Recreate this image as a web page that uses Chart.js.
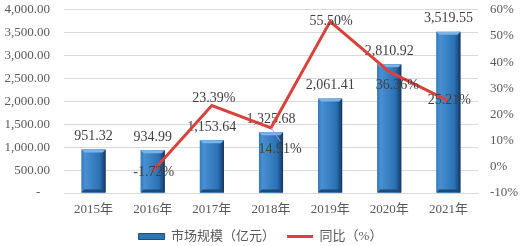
<!DOCTYPE html>
<html>
<head>
<meta charset="utf-8">
<script src="https://cdn.jsdelivr.net/npm/chart.js@4/dist/chart.umd.min.js"></script>
<style>
  html, body { margin: 0; padding: 0; background: #fff; }
  #box { width: 521px; height: 246px; }
</style>
</head>
<body>
<div id="box"><canvas id="chart"></canvas></div>
<script>
// 数据
const years = ['2015年', '2016年', '2017年', '2018年', '2019年', '2020年', '2021年'];
const marketSize = [951.32, 934.99, 1153.64, 1325.68, 2061.41, 2810.92, 3519.55];
const yoyGrowth = [null, -1.72, 23.39, 14.91, 55.50, 36.36, 25.21];
const leftTicks = [0, 500, 1000, 1500, 2000, 2500, 3000, 3500, 4000];
const rightTicks = [-10, 0, 10, 20, 30, 40, 50, 60];

// 折线标签的偏移 (px)
const lineLabelDx = [0, 1, 2, 9, 1, 8, 1];
const lineLabelDy = [0, 1, -7, 22, 0, 14, -1];

const serif = '"Liberation Serif", "Times New Roman", "Noto Sans CJK SC", serif';

function fmt(v) {
  return v.toLocaleString('en-US', { minimumFractionDigits: 2, maximumFractionDigits: 2 });
}

// 柱子立体效果 + 柱子标签
const bevelBars = {
  id: 'bevelBars',
  afterDatasetDraw(chart, args) {
    if (args.index !== 0) return;
    const ctx = chart.ctx;
    args.meta.data.forEach((bar, i) => {
      const w = bar.width, x0 = bar.x - w / 2, top = bar.y, h = bar.base - bar.y;
      const g = ctx.createLinearGradient(x0, 0, x0 + w, 0);
      g.addColorStop(0, '#3479bb');
      g.addColorStop(0.15, '#4890d2');
      g.addColorStop(0.75, '#2b72b4');
      g.addColorStop(0.9, '#1d4f85');
      g.addColorStop(1, '#12355c');
      ctx.save();
      ctx.fillStyle = g;
      ctx.fillRect(x0, top, w, h);
      // 顶部高光
      ctx.fillStyle = '#7db2e4';
      ctx.beginPath();
      ctx.moveTo(x0, top);
      ctx.lineTo(x0 + w, top);
      ctx.lineTo(x0 + w - 3, top + 3);
      ctx.lineTo(x0 + 3, top + 3);
      ctx.closePath();
      ctx.fill();
      // 底部阴影
      ctx.fillStyle = '#1c4a7a';
      ctx.beginPath();
      ctx.moveTo(x0, top + h);
      ctx.lineTo(x0 + w, top + h);
      ctx.lineTo(x0 + w - 3, top + h - 3);
      ctx.lineTo(x0 + 3, top + h - 3);
      ctx.closePath();
      ctx.fill();
      // 数值
      ctx.font = '14px ' + serif;
      ctx.fillStyle = '#404040';
      ctx.textAlign = 'center';
      ctx.textBaseline = 'bottom';
      ctx.fillText(fmt(marketSize[i]), bar.x, bar.y - 6);
      ctx.restore();
    });
  }
};

// 折线标签
const lineLabels = {
  id: 'lineLabels',
  afterDatasetsDraw(chart) {
    const ctx = chart.ctx;
    ctx.save();
    ctx.font = '14px ' + serif;
    ctx.textAlign = 'center';
    ctx.textBaseline = 'middle';
    chart.getDatasetMeta(1).data.forEach((pt, i) => {
      if (yoyGrowth[i] === null) return;
      const tx = pt.x + lineLabelDx[i], ty = pt.y + lineLabelDy[i];
      if (lineLabelDy[i] > 18) {
        // 引导线
        ctx.strokeStyle = '#a6a6a6';
        ctx.lineWidth = 1;
        ctx.beginPath();
        ctx.moveTo(pt.x, pt.y);
        ctx.lineTo(tx, ty - 9);
        ctx.stroke();
      }
      ctx.fillStyle = '#404040';
      ctx.fillText(yoyGrowth[i].toFixed(2) + '%', tx, ty);
    });
    ctx.restore();
  }
};

const chart = new Chart(document.getElementById('chart'), {
  data: {
    labels: years,
    datasets: [
      {
        type: 'bar',
        label: '市场规模（亿元）',
        data: marketSize,
        yAxisID: 'y',
        order: 1,
        backgroundColor: '#2e75b6',
        borderColor: '#1f4e79',
        borderWidth: 1,
        barPercentage: 0.8,
        categoryPercentage: 0.51
      },
      {
        type: 'line',
        label: '同比（%）',
        data: yoyGrowth,
        yAxisID: 'y1',
        order: 0,
        borderColor: '#d9433e',
        backgroundColor: '#d9433e',
        borderWidth: 3,
        pointRadius: 0,
        tension: 0,
        spanGaps: false
      }
    ]
  },
  options: {
    responsive: true,
    maintainAspectRatio: false,
    animation: false,
    layout: { padding: 0 },
    plugins: {
      tooltip: { enabled: false },
      legend: {
        position: 'bottom',
        labels: {
          font: { family: serif, size: 13 },
          color: '#595959',
          usePointStyle: true,
          pointStyleWidth: 26,
          boxHeight: 6,
          padding: 12,
          generateLabels(chart) {
            return chart.data.datasets.map((ds, i) => ({
              text: ds.label,
              datasetIndex: i,
              fillStyle: i === 0 ? '#2e75b6' : '#d9433e',
              strokeStyle: i === 0 ? '#1f4e79' : '#d9433e',
              lineWidth: i === 0 ? 1 : 3,
              pointStyle: i === 0 ? 'rect' : 'line',
              fontColor: '#595959',
              hidden: false
            }));
          }
        }
      }
    },
    scales: {
      x: {
        afterFit(axis) { axis.height = 25; },
        grid: { display: false, drawTicks: false },
        border: { color: '#d9d9d9' },
        ticks: { font: { family: serif, size: 13 }, color: '#595959', padding: 9 }
      },
      y: {
        position: 'left',
        min: 0,
        max: 4000,
        afterBuildTicks(axis) { axis.ticks = leftTicks.map(v => ({ value: v })); },
        afterFit(axis) { axis.width = 64; },
        grid: { color: '#d9d9d9', drawTicks: true, tickLength: 12, tickColor: 'rgba(0,0,0,0)' },
        border: { display: false },
        ticks: {
          font: { family: serif, size: 13 },
          color: '#595959',
          padding: 2,
          callback: v => v === 0 ? '-   ' : fmt(v)
        }
      },
      y1: {
        position: 'right',
        min: -10,
        max: 60,
        afterBuildTicks(axis) { axis.ticks = rightTicks.map(v => ({ value: v })); },
        afterFit(axis) { axis.width = 43; },
        grid: { display: false, drawTicks: true, tickLength: 10 },
        border: { display: false },
        ticks: {
          font: { family: serif, size: 13 },
          color: '#595959',
          padding: 2,
          callback: v => v + '%'
        }
      }
    }
  },
  plugins: [bevelBars, lineLabels]
});

// 图例高度固定
const legendFit = chart.legend.fit;
chart.legend.fit = function () {
  legendFit.call(this);
  this.height = 28;
};
chart.update();
</script>
</body>
</html>
